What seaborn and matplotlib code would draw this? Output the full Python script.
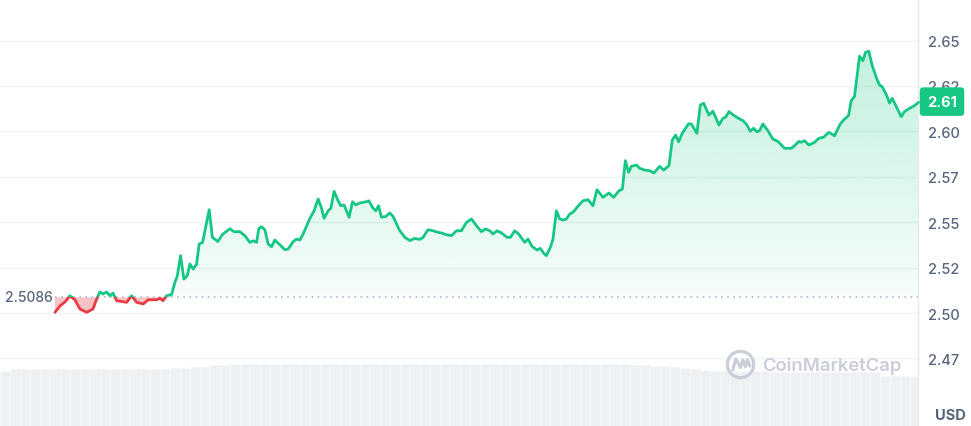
import numpy as np
import pandas as pd
import matplotlib
matplotlib.use("Agg")
import matplotlib.pyplot as plt
import seaborn as sns
from matplotlib.patches import Rectangle, Circle, PathPatch
from matplotlib.path import Path
from matplotlib.colors import LinearSegmentedColormap
import matplotlib.transforms as mtransforms

# ---------------- data ----------------
t = [55, 60, 65, 70, 75, 80, 86.7, 93, 96.7, 100,
     103, 106.7, 110, 113, 116.7, 126.7, 131.7, 136.7, 143.3, 148.3,
     156.7, 160, 163, 166.7, 171.7, 175, 177.3, 180.7, 184, 187.3,
     190, 193.3, 196.7, 199.3, 202.7, 209.3, 212.5, 218, 222.5, 230,
     234, 240, 245, 250, 253.3, 256.7, 259, 261.7, 265, 268.3,
     271.7, 275, 280, 285, 288.3, 293.3, 296.7, 300, 303.3, 310,
     314, 318.3, 321.7, 324.3, 328.3, 331, 334.3, 338.3, 341, 344.3,
     349.3, 352.7, 356, 360, 366.7, 369, 373.3, 376, 378.7, 381.7,
     386, 390, 393.3, 400, 405, 410, 415, 420, 423.3, 428.3,
     433.3, 438.3, 441.7, 446.7, 451.7, 456.7, 461.7, 466.7, 471.7, 476.7,
     481.7, 485.7, 490, 493.3, 497.3, 501.7, 507.3, 510.7, 515, 519,
     525, 528.3, 532.3, 537.3, 540.7, 544, 546.7, 550.7, 553.3, 556.7,
     560, 563.3, 566.7, 570, 573.3, 579.3, 583.3, 588.3, 593.3, 597.3,
     603.3, 609.3, 614, 619.3, 622.7, 625.7, 629, 631.7, 636.7, 640,
     645, 650, 654.3, 660, 664, 669.3, 672.7, 676, 679, 682.7,
     689, 691.7, 697.3, 700.7, 704, 709.3, 713.3, 716, 719.3, 723.3,
     726, 729.3, 733.3, 738.3, 743.3, 746.7, 750.7, 754, 757.3, 760,
     763.3, 768.3, 773.3, 778.3, 785, 791.7, 795, 799.3, 801.7, 805,
     809.3, 815, 819.3, 824, 829.3, 835, 840.7, 845, 849, 851.7,
     855, 860, 863.3, 866, 869.3, 872.7, 877.3, 880, 882.7, 887.3,
     890, 892.7, 896.7, 901.7, 905, 910, 915, 919]

price = [2.5004, 2.5039, 2.5061, 2.5095, 2.5072, 2.5022, 2.5004, 2.5022, 2.5077, 2.5116,
         2.5105, 2.5116, 2.5095, 2.5110, 2.5068, 2.5059, 2.5095, 2.5059, 2.5050, 2.5073,
         2.5073, 2.5081, 2.5068, 2.5095, 2.5102, 2.5169, 2.5202, 2.5316, 2.5187, 2.5205,
         2.5270, 2.5242, 2.5270, 2.5380, 2.5389, 2.5569, 2.5417, 2.5394, 2.5432, 2.5464,
         2.5448, 2.5448, 2.5426, 2.5389, 2.5398, 2.5389, 2.5466, 2.5475, 2.5459, 2.5380,
         2.5365, 2.5402, 2.5376, 2.5349, 2.5352, 2.5393, 2.5407, 2.5402, 2.5435, 2.5521,
         2.5560, 2.5628, 2.5577, 2.5521, 2.5563, 2.5577, 2.5670, 2.5618, 2.5591, 2.5595,
         2.5527, 2.5613, 2.5595, 2.5606, 2.5613, 2.5618, 2.5577, 2.5563, 2.5591, 2.5527,
         2.5532, 2.5551, 2.5532, 2.5453, 2.5417, 2.5399, 2.5411, 2.5405, 2.5417, 2.5459,
         2.5453, 2.5444, 2.5441, 2.5431, 2.5426, 2.5453, 2.5453, 2.5499, 2.5518, 2.5481,
         2.5448, 2.5463, 2.5453, 2.5435, 2.5453, 2.5441, 2.5417, 2.5417, 2.5453, 2.5435,
         2.5389, 2.5407, 2.5367, 2.5347, 2.5356, 2.5329, 2.5316, 2.5362, 2.5407, 2.5563,
         2.5518, 2.5512, 2.5518, 2.5545, 2.5555, 2.5595, 2.5618, 2.5624, 2.5591, 2.5679,
         2.5637, 2.5661, 2.5637, 2.5673, 2.5683, 2.5839, 2.5775, 2.5808, 2.5815, 2.5797,
         2.5787, 2.5784, 2.5771, 2.5808, 2.5787, 2.5811, 2.5953, 2.5980, 2.5943, 2.5991,
         2.6042, 2.6041, 2.5990, 2.6145, 2.6155, 2.6090, 2.6111, 2.6078, 2.6035, 2.6072,
         2.6078, 2.6109, 2.6092, 2.6074, 2.6059, 2.6041, 2.6001, 2.6017, 2.5998, 2.6004,
         2.6041, 2.6004, 2.5958, 2.5945, 2.5907, 2.5907, 2.5921, 2.5945, 2.5940, 2.5949,
         2.5925, 2.5940, 2.5962, 2.5968, 2.5995, 2.5976, 2.6041, 2.6068, 2.6087, 2.6169,
         2.6193, 2.6414, 2.6389, 2.6436, 2.6441, 2.6362, 2.6289, 2.6256, 2.6246, 2.6197,
         2.6156, 2.6182, 2.6138, 2.6081, 2.6109, 2.6127, 2.6142, 2.6160]

# volume strip at the bottom (relative units)
volume = [55, 57, 57, 57, 57, 57, 57, 57, 57, 57,
          57, 57, 57, 57, 57, 57, 57, 58, 58, 59,
          59, 61, 61, 62, 62, 62, 62, 62, 62, 62,
          62, 62, 62, 62, 62, 62, 62, 62, 62, 62,
          62, 62, 62, 62, 62, 62, 62, 62, 62, 62,
          62, 62, 62, 62, 62, 62, 62, 62, 62, 62,
          62, 62, 62, 61, 61, 60, 60, 59, 58, 57,
          56, 55, 55, 55, 55, 55, 55, 54, 54, 54,
          54, 54, 54, 54, 54, 54, 54, 54, 50, 50,
          50, 50]

open_price = 2.5086
open_label = "2.5086"
last_label = "2.61"
tick_values = [2.475, 2.50, 2.525, 2.55, 2.575, 2.60, 2.625, 2.65]
tick_labels = ["2.47", "2.50", "2.52", "2.55", "2.57", "2.60", "2.62", "2.65"]
currency = "USD"
watermark = "CoinMarketCap"

# ---------------- style ----------------
GREEN = "#16c784"
RED = "#ea3943"
GRAY = "#58667e"
GRID = "#eff2f5"

sns.set_theme(style="white")
plt.rcParams["font.family"] = ["Inter", "DejaVu Sans"]

W, H = 971, 427
fig = plt.figure(figsize=(W / 100, H / 100), dpi=100)
pos = [0, 0, 918 / W, 1]
XMAX = 918.5
YLIM = (2.4378, 2.6729)

# volume axes (behind)
axv = fig.add_axes(pos)
bar_t = np.arange(5, 5 + 10 * len(volume), 10)
axv.bar(bar_t, volume, width=10, color="#eef1f4", edgecolor="#f7f8fa", linewidth=0.6)
axv.set_xlim(0, XMAX)
axv.set_ylim(0, max(volume) / 0.145)
axv.axis("off")

# price axes
ax = fig.add_axes(pos, sharex=axv)
ax.patch.set_alpha(0)
df = pd.DataFrame({"t": t, "price": price})
ax.set_xlim(0, XMAX)
ax.set_ylim(*YLIM)

# gradient fill above the open price
tt = np.array(t)
pp = np.array(price)
verts = [(tt[0], open_price)] + list(zip(tt, pp)) + [(tt[-1], open_price), (tt[0], open_price)]
clip_poly = PathPatch(Path(verts), transform=ax.transData, facecolor="none", edgecolor="none")
ax.add_patch(clip_poly)
cmap = LinearSegmentedColormap.from_list(
    "g", [(22 / 255, 199 / 255, 132 / 255, 0.04), (22 / 255, 199 / 255, 132 / 255, 0.26)])
grad = np.linspace(0, 1, 256).reshape(-1, 1)
im = ax.imshow(grad, cmap=cmap, origin="lower", aspect="auto",
               extent=[tt[0], tt[-1], open_price, pp.max()], zorder=1)
im.set_clip_path(clip_poly)

# red fill below the open price
ax.fill_between(tt, pp, open_price, where=pp < open_price, interpolate=True,
                color=RED, alpha=0.3, linewidth=0, zorder=1)

# dotted open-price line
ax.hlines(open_price, tt[0], XMAX, colors="#a6b0c3", linestyles=(0, (1, 3)), linewidth=1.1, zorder=2)

# price line: green above open, red below
sns.lineplot(data=df, x="t", y="price", ax=ax, color=GREEN, linewidth=2.0, zorder=3)
line_g = ax.lines[-1]
sns.lineplot(data=df, x="t", y="price", ax=ax, color=RED, linewidth=2.0, zorder=3)
line_r = ax.lines[-1]
line_g.set_clip_path(Rectangle((0, open_price), 2000, 1, transform=ax.transData))
line_r.set_clip_path(Rectangle((0, open_price - 1), 2000, 1, transform=ax.transData))

ax.set_xlim(0, XMAX)
ax.set_ylim(*YLIM)

# axes cosmetics
ax.set_xlabel("")
ax.set_ylabel("")
ax.set_xticks([])
ax.yaxis.tick_right()
ax.set_yticks(tick_values, tick_labels)
ax.tick_params(axis="y", length=0, pad=7, labelsize=10.5, labelcolor=GRAY)
for lbl in ax.get_yticklabels():
    lbl.set_fontweight("medium")
ax.grid(axis="y", color=GRID, linewidth=1)
ax.grid(axis="x", visible=False)
ax.set_axisbelow(True)
for s in ["left", "top", "bottom"]:
    ax.spines[s].set_visible(False)
ax.spines["right"].set_color("#e6e9ee")
ax.spines["right"].set_linewidth(1)

# open price label
ax.text(tt[0] - 2, open_price, open_label, ha="right", va="center",
        fontsize=10, fontweight="medium", color=GRAY, zorder=4)

# last price badge
trans = mtransforms.blended_transform_factory(ax.transAxes, ax.transData)
ax.text(942 / 918, pp[-1] + 0.0004, last_label, transform=trans, ha="center", va="center",
        fontsize=10.5, fontweight="bold", color="white", zorder=6, clip_on=False,
        bbox=dict(boxstyle="round,pad=0.5,rounding_size=0.25", fc=GREEN, ec="none"))

# currency label
fig.text(950 / W, 1 - 416 / H, currency, ha="center", va="center",
         fontsize=10.5, fontweight="bold", color=GRAY)

# watermark
WM = "#c9ced8"
fig.text(762 / W, 1 - 366 / H, watermark, ha="left", va="center",
         fontsize=13.3, fontweight="semibold", color=WM)
lax = fig.add_axes([725 / W, 1 - 381 / H, 31 / W, 31 / H])
lax.set_xlim(-1, 1)
lax.set_ylim(-1, 1)
lax.set_aspect("equal")
lax.axis("off")
lax.add_patch(Circle((0, 0), 0.85, fill=False, ec=WM, lw=2.3))
lax.plot([-0.5, -0.3, 0.0, 0.15, 0.32, 0.45, 0.6],
         [-0.35, 0.35, -0.2, 0.3, -0.15, 0.3, -0.1], color=WM, lw=2.3,
         solid_capstyle="round", solid_joinstyle="round")

fig.savefig("out.png", dpi=100)
